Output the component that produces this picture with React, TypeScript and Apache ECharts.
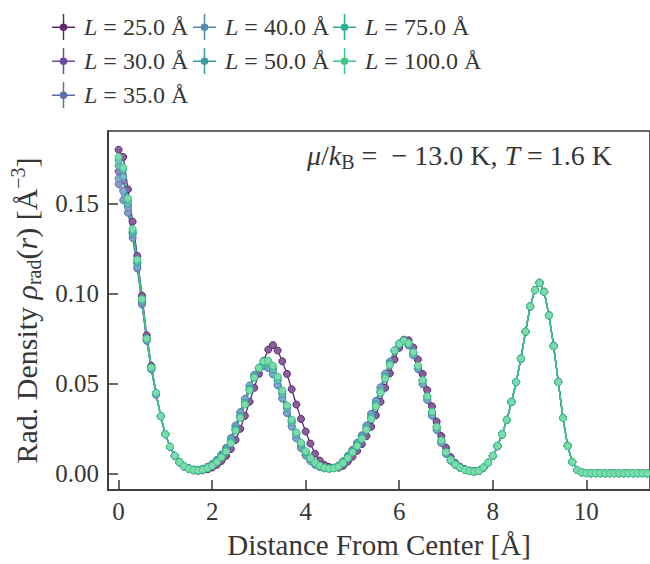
import React, { useEffect, useRef } from "react";
import * as echarts from "echarts";

// Radial positions (Å) shared by every box size
const R = [
  0.0, 0.1, 0.2, 0.3, 0.4, 0.5, 0.6, 0.7, 0.8, 0.9,
  1.0, 1.1, 1.2, 1.3, 1.4, 1.5, 1.6, 1.7, 1.8, 1.9,
  2.0, 2.1, 2.2, 2.3, 2.4, 2.5, 2.6, 2.7, 2.8, 2.9,
  3.0, 3.1, 3.2, 3.3, 3.4, 3.5, 3.6, 3.7, 3.8, 3.9,
  4.0, 4.1, 4.2, 4.3, 4.4, 4.5, 4.6, 4.7, 4.8, 4.9,
  5.0, 5.1, 5.2, 5.3, 5.4, 5.5, 5.6, 5.7, 5.8, 5.9,
  6.0, 6.1, 6.2, 6.3, 6.4, 6.5, 6.6, 6.7, 6.8, 6.9,
  7.0, 7.1, 7.2, 7.3, 7.4, 7.5, 7.6, 7.7, 7.8, 7.9,
  8.0, 8.1, 8.2, 8.3, 8.4, 8.5, 8.6, 8.7, 8.8, 8.9,
  9.0, 9.1, 9.2, 9.3, 9.4, 9.5, 9.6, 9.7, 9.8, 9.9,
  10.0, 10.1, 10.2, 10.3, 10.4, 10.5, 10.6, 10.7, 10.8, 10.9, 11.0, 11.1, 11.2, 11.3,
];

const L_LABELS = [
  "L = 25.0 Å",
  "L = 30.0 Å",
  "L = 35.0 Å",
  "L = 40.0 Å",
  "L = 50.0 Å",
  "L = 75.0 Å",
  "L = 100.0 Å",
];

const RHO_L25 = [
  0.180, 0.176, 0.158, 0.140, 0.121, 0.099, 0.077, 0.060, 0.045, 0.032,
  0.022, 0.015, 0.0098, 0.0062, 0.0040, 0.0026, 0.0019, 0.0017, 0.0019, 0.0025,
  0.0035, 0.0050, 0.0072, 0.0100, 0.0138, 0.0188, 0.0250, 0.0322, 0.0400, 0.0478,
  0.0555, 0.0628, 0.0690, 0.0715, 0.0685, 0.0625, 0.0555, 0.0470, 0.0385, 0.0305,
  0.0235, 0.0168, 0.0112, 0.0074, 0.0050, 0.0038, 0.0033, 0.0034, 0.0045, 0.0068,
  0.0095, 0.0128, 0.0165, 0.0210, 0.0262, 0.0325, 0.0400, 0.0478, 0.0558, 0.0635,
  0.0700, 0.0745, 0.0742, 0.0702, 0.0635, 0.0555, 0.0465, 0.0375, 0.0290, 0.0210,
  0.0145, 0.0093, 0.0060, 0.0039, 0.0026, 0.0018, 0.0014, 0.0017, 0.0033, 0.0060,
  0.0098, 0.0152, 0.0218, 0.0298, 0.0398, 0.0508, 0.0638, 0.0788, 0.0928, 0.1020,
  0.1062, 0.1012, 0.0882, 0.0712, 0.0512, 0.0312, 0.0157, 0.0066, 0.0022, 0.0008,
  0.0004, 0.0003, 0.0003, 0.0003, 0.0003, 0.0003, 0.0003, 0.0003, 0.0003, 0.0003, 0.0003, 0.0003, 0.0003, 0.0003,
];

const RHO_L30 = [
  0.168, 0.163, 0.149, 0.134, 0.117, 0.096, 0.075, 0.059, 0.045, 0.032,
  0.022, 0.015, 0.0100, 0.0065, 0.0042, 0.0028, 0.0021, 0.0020, 0.0024, 0.0034,
  0.0048, 0.0069, 0.0096, 0.0130, 0.0178, 0.0246, 0.0318, 0.0392, 0.0468, 0.0536,
  0.0585, 0.0610, 0.0608, 0.0578, 0.0520, 0.0446, 0.0366, 0.0288, 0.0219, 0.0163,
  0.0118, 0.0083, 0.0059, 0.0043, 0.0033, 0.0029, 0.0032, 0.0042, 0.0063, 0.0092,
  0.0124, 0.0160, 0.0200, 0.0250, 0.0311, 0.0381, 0.0456, 0.0535, 0.0608, 0.0682,
  0.0722, 0.0740, 0.0724, 0.0673, 0.0598, 0.0518, 0.0428, 0.0343, 0.0259, 0.0184,
  0.0120, 0.0078, 0.0052, 0.0034, 0.0022, 0.0016, 0.0013, 0.0017, 0.0035, 0.0062,
  0.0100, 0.0155, 0.0220, 0.0300, 0.0400, 0.0510, 0.0640, 0.0790, 0.0930, 0.1020,
  0.1060, 0.1010, 0.0880, 0.0710, 0.0510, 0.0310, 0.0155, 0.0065, 0.0022, 0.0008,
  0.0004, 0.0003, 0.0003, 0.0003, 0.0003, 0.0003, 0.0003, 0.0003, 0.0003, 0.0003, 0.0003, 0.0003, 0.0003, 0.0003,
];

const RHO_L35 = [
  0.161, 0.152, 0.145, 0.131, 0.114, 0.094, 0.074, 0.058, 0.044, 0.032,
  0.022, 0.015, 0.0101, 0.0067, 0.0044, 0.0031, 0.0024, 0.0023, 0.0028, 0.0039,
  0.0054, 0.0077, 0.0107, 0.0145, 0.0198, 0.0268, 0.0342, 0.0416, 0.0488, 0.0546,
  0.0585, 0.0598, 0.0588, 0.0552, 0.0492, 0.0418, 0.0338, 0.0263, 0.0197, 0.0144,
  0.0102, 0.0072, 0.0051, 0.0038, 0.0031, 0.0030, 0.0034, 0.0046, 0.0070, 0.0100,
  0.0134, 0.0172, 0.0214, 0.0268, 0.0333, 0.0405, 0.0480, 0.0556, 0.0623, 0.0684,
  0.0723, 0.0736, 0.0713, 0.0658, 0.0583, 0.0498, 0.0410, 0.0323, 0.0243, 0.0171,
  0.0111, 0.0073, 0.0050, 0.0033, 0.0022, 0.0016, 0.0013, 0.0017, 0.0035, 0.0062,
  0.0100, 0.0155, 0.0220, 0.0300, 0.0400, 0.0510, 0.0640, 0.0790, 0.0930, 0.1020,
  0.1060, 0.1010, 0.0880, 0.0710, 0.0510, 0.0310, 0.0155, 0.0065, 0.0022, 0.0008,
  0.0004, 0.0003, 0.0003, 0.0003, 0.0003, 0.0003, 0.0003, 0.0003, 0.0003, 0.0003, 0.0003, 0.0003, 0.0003, 0.0003,
];

const RHO_L40 = [
  0.164, 0.157, 0.148, 0.133, 0.115, 0.095, 0.074, 0.058, 0.044, 0.032,
  0.022, 0.015, 0.0100, 0.0066, 0.0043, 0.0030, 0.0023, 0.0022, 0.0027, 0.0038,
  0.0053, 0.0076, 0.0105, 0.0142, 0.0195, 0.0265, 0.0340, 0.0415, 0.0490, 0.0550,
  0.0590, 0.0602, 0.0590, 0.0555, 0.0495, 0.0420, 0.0340, 0.0265, 0.0198, 0.0145,
  0.0103, 0.0072, 0.0051, 0.0038, 0.0031, 0.0029, 0.0033, 0.0045, 0.0068, 0.0098,
  0.0132, 0.0170, 0.0212, 0.0265, 0.0330, 0.0402, 0.0478, 0.0555, 0.0622, 0.0685,
  0.0725, 0.0738, 0.0715, 0.0660, 0.0585, 0.0500, 0.0412, 0.0325, 0.0245, 0.0172,
  0.0112, 0.0074, 0.0050, 0.0033, 0.0022, 0.0016, 0.0013, 0.0017, 0.0035, 0.0062,
  0.0100, 0.0155, 0.0220, 0.0300, 0.0400, 0.0510, 0.0640, 0.0790, 0.0930, 0.1020,
  0.1060, 0.1010, 0.0880, 0.0710, 0.0510, 0.0310, 0.0155, 0.0065, 0.0022, 0.0008,
  0.0004, 0.0003, 0.0003, 0.0003, 0.0003, 0.0003, 0.0003, 0.0003, 0.0003, 0.0003, 0.0003, 0.0003, 0.0003, 0.0003,
];

const RHO_L50 = [
  0.171, 0.165, 0.150, 0.134, 0.117, 0.096, 0.075, 0.059, 0.045, 0.032,
  0.022, 0.015, 0.0100, 0.0065, 0.0042, 0.0028, 0.0021, 0.0019, 0.0023, 0.0033,
  0.0048, 0.0070, 0.0098, 0.0133, 0.0182, 0.0252, 0.0322, 0.0396, 0.0472, 0.0540,
  0.0585, 0.0615, 0.0612, 0.0580, 0.0520, 0.0445, 0.0365, 0.0287, 0.0218, 0.0162,
  0.0118, 0.0083, 0.0059, 0.0043, 0.0033, 0.0029, 0.0032, 0.0042, 0.0063, 0.0092,
  0.0125, 0.0160, 0.0202, 0.0253, 0.0315, 0.0386, 0.0462, 0.0540, 0.0612, 0.0682,
  0.0722, 0.0740, 0.0725, 0.0675, 0.0600, 0.0520, 0.0430, 0.0345, 0.0260, 0.0185,
  0.0120, 0.0078, 0.0052, 0.0034, 0.0022, 0.0016, 0.0013, 0.0017, 0.0035, 0.0062,
  0.0100, 0.0155, 0.0220, 0.0300, 0.0400, 0.0510, 0.0640, 0.0790, 0.0930, 0.1020,
  0.1060, 0.1010, 0.0880, 0.0710, 0.0510, 0.0310, 0.0155, 0.0065, 0.0022, 0.0008,
  0.0004, 0.0003, 0.0003, 0.0003, 0.0003, 0.0003, 0.0003, 0.0003, 0.0003, 0.0003, 0.0003, 0.0003, 0.0003, 0.0003,
];

const RHO_L75 = [
  0.174, 0.169, 0.152, 0.135, 0.118, 0.097, 0.075, 0.059, 0.045, 0.032,
  0.022, 0.015, 0.0100, 0.0065, 0.0042, 0.0028, 0.0021, 0.0019, 0.0023, 0.0032,
  0.0046, 0.0067, 0.0094, 0.0127, 0.0174, 0.0244, 0.0314, 0.0388, 0.0467, 0.0536,
  0.0586, 0.0622, 0.0625, 0.0597, 0.0537, 0.0460, 0.0378, 0.0298, 0.0228, 0.0170,
  0.0124, 0.0087, 0.0061, 0.0044, 0.0034, 0.0029, 0.0031, 0.0040, 0.0060, 0.0088,
  0.0120, 0.0155, 0.0195, 0.0245, 0.0305, 0.0375, 0.0450, 0.0530, 0.0605, 0.0685,
  0.0722, 0.0740, 0.0725, 0.0675, 0.0600, 0.0520, 0.0430, 0.0345, 0.0260, 0.0185,
  0.0120, 0.0078, 0.0052, 0.0034, 0.0022, 0.0016, 0.0013, 0.0017, 0.0035, 0.0062,
  0.0100, 0.0155, 0.0220, 0.0300, 0.0400, 0.0510, 0.0640, 0.0790, 0.0930, 0.1020,
  0.1060, 0.1010, 0.0880, 0.0710, 0.0510, 0.0310, 0.0155, 0.0065, 0.0022, 0.0008,
  0.0004, 0.0003, 0.0003, 0.0003, 0.0003, 0.0003, 0.0003, 0.0003, 0.0003, 0.0003, 0.0003, 0.0003, 0.0003, 0.0003,
];

const RHO_L100 = [
  0.176, 0.170, 0.153, 0.136, 0.119, 0.097, 0.075, 0.059, 0.045, 0.032,
  0.022, 0.015, 0.0100, 0.0065, 0.0042, 0.0028, 0.0021, 0.0019, 0.0023, 0.0032,
  0.0045, 0.0066, 0.0092, 0.0124, 0.0170, 0.0240, 0.0310, 0.0385, 0.0465, 0.0535,
  0.0588, 0.0625, 0.0628, 0.0600, 0.0540, 0.0462, 0.0380, 0.0300, 0.0230, 0.0172,
  0.0125, 0.0088, 0.0062, 0.0045, 0.0034, 0.0029, 0.0031, 0.0040, 0.0060, 0.0088,
  0.0120, 0.0155, 0.0195, 0.0245, 0.0305, 0.0375, 0.0450, 0.0530, 0.0605, 0.0685,
  0.0722, 0.0740, 0.0725, 0.0675, 0.0600, 0.0520, 0.0430, 0.0345, 0.0260, 0.0185,
  0.0120, 0.0078, 0.0052, 0.0034, 0.0022, 0.0016, 0.0013, 0.0017, 0.0035, 0.0062,
  0.0100, 0.0155, 0.0220, 0.0300, 0.0400, 0.0510, 0.0640, 0.0790, 0.0930, 0.1020,
  0.1060, 0.1010, 0.0880, 0.0710, 0.0510, 0.0310, 0.0155, 0.0065, 0.0022, 0.0008,
  0.0004, 0.0003, 0.0003, 0.0003, 0.0003, 0.0003, 0.0003, 0.0003, 0.0003, 0.0003, 0.0003, 0.0003, 0.0003, 0.0003,
];

const SERIES_VALUES = [RHO_L25, RHO_L30, RHO_L35, RHO_L40, RHO_L50, RHO_L75, RHO_L100];

const LINE_COLORS = ["#5d2a70", "#6a4c9a", "#5b6ea9", "#4f88b0", "#3b9aa3", "#2aaf93", "#3fc78a"];
const FILL_COLORS = ["#8a5e9c", "#9580bb", "#8b9bc7", "#80abc9", "#74bcc2", "#6ccbb5", "#7edcac"];

const X_TICKS = [0, 2, 4, 6, 8, 10];
const Y_TICKS = [0, 0.05, 0.1, 0.15];

const FONT = "'Liberation Serif', 'DejaVu Serif', serif";
const INK = "#363636";

// legend glyph: error-bar cross with a marker dot
const LEGEND_ICON =
  "path://M0,12 L22,12 L22,13.4 L0,13.4 Z M10.3,0 L11.7,0 L11.7,25 L10.3,25 Z " +
  "M14.6,12.7 A3.6,3.6 0 1,1 7.4,12.7 A3.6,3.6 0 1,1 14.6,12.7 Z";

const LEGEND_COLUMNS = [[0, 1, 2], [3, 4], [5, 6]];
const LEGEND_LEFT = [47, 188, 328];

export default function App() {
  const ref = useRef<HTMLDivElement>(null);

  useEffect(() => {
    if (!ref.current) return;
    const chart = echarts.init(ref.current, null, { renderer: "svg" });

    const axisLine = { show: true, onZero: false, lineStyle: { color: INK, width: 1.6 } };
    const axisTickStyle = { color: INK, width: 1.5 };

    const option: any = {
      animation: false,
      backgroundColor: "#ffffff",
      grid: {
        left: 108,
        top: 131,
        right: -20,
        bottom: 71,
        show: true,
        borderColor: INK,
        borderWidth: 1.6,
        backgroundColor: "transparent",
      },
      legend: LEGEND_COLUMNS.map((col, k) => ({
        orient: "vertical",
        left: LEGEND_LEFT[k],
        top: 9,
        itemWidth: 23,
        itemHeight: 26,
        itemGap: 8,
        symbolKeepAspect: false,
        selectedMode: false,
        icon: LEGEND_ICON,
        itemStyle: { borderWidth: 0 },
        data: col.map((i) => ({
          name: L_LABELS[i],
          itemStyle: { color: LINE_COLORS[i], borderWidth: 0 },
        })),
        formatter: (n: string) => n.replace(/^L/, "{it|L}"),
        textStyle: {
          fontFamily: FONT,
          fontSize: 24,
          lineHeight: 26,
          color: INK,
          padding: [0, 0, 0, 4],
          rich: {
            it: { fontStyle: "italic", fontFamily: FONT, fontSize: 24, lineHeight: 26, color: INK },
          },
        },
      })),
      xAxis: {
        type: "value",
        min: -0.2268,
        max: 11.361,
        name: "Distance From Center [Å]",
        nameLocation: "middle",
        nameGap: 40,
        nameTextStyle: { fontFamily: FONT, fontSize: 29, color: INK },
        axisLine,
        axisTick: { show: true, inside: true, length: 10, lineStyle: axisTickStyle, customValues: X_TICKS },
        axisLabel: {
          fontFamily: FONT,
          fontSize: 25,
          color: INK,
          margin: 9,
          customValues: X_TICKS,
          formatter: (v: number) => String(v),
        },
        splitLine: { show: false },
      },
      yAxis: {
        type: "value",
        min: -0.00898,
        max: 0.1904,
        name: "Rad. Density {it|ρ}{sub|rad}({it|r}) [Å{sup|−3}]",
        nameLocation: "middle",
        nameGap: 56,
        nameRotate: 90,
        nameTextStyle: {
          fontFamily: FONT,
          fontSize: 30,
          color: INK,
          lineHeight: 36,
          rich: {
            it: { fontStyle: "italic", fontFamily: FONT, fontSize: 30, color: INK, lineHeight: 36 },
            sub: { fontFamily: FONT, fontSize: 20, color: INK, verticalAlign: "bottom" },
            sup: { fontFamily: FONT, fontSize: 20, color: INK, verticalAlign: "top" },
          },
        },
        axisLine,
        axisTick: { show: true, inside: true, length: 10, lineStyle: axisTickStyle, customValues: Y_TICKS },
        axisLabel: {
          fontFamily: FONT,
          fontSize: 25,
          color: INK,
          margin: 9,
          customValues: Y_TICKS,
          formatter: (v: number) => v.toFixed(2),
        },
        splitLine: { show: false },
      },
      graphic: [
        {
          type: "text",
          right: 38,
          top: 138,
          z: 100,
          style: {
            text: "{it|μ}/{it|k}{sub|B} =  − 13.0 K, {it|T} = 1.6 K",
            fontFamily: FONT,
            fontSize: 28,
            fill: INK,
            lineHeight: 34,
            rich: {
              it: { fontStyle: "italic", fontFamily: FONT, fontSize: 28, fill: INK, lineHeight: 34 },
              sub: { fontFamily: FONT, fontSize: 20, fill: INK, verticalAlign: "bottom" },
            },
          },
        },
      ],
      series: SERIES_VALUES.map((vals, i) => ({
        type: "line",
        name: L_LABELS[i],
        data: R.map((r, j) => [r, vals[j]]),
        symbol: "circle",
        symbolSize: 7,
        showSymbol: true,
        showAllSymbol: true,
        clip: true,
        lineStyle: { color: LINE_COLORS[i], width: 1.3 },
        itemStyle: { color: FILL_COLORS[i], borderColor: LINE_COLORS[i], borderWidth: 1 },
        emphasis: { disabled: true },
      })),
    };

    chart.setOption(option);
    return () => chart.dispose();
  }, []);

  return (
    <div
      ref={ref}
      style={{ position: "fixed", left: 0, top: 0, width: 650, height: 564, background: "#fff" }}
    />
  );
}
